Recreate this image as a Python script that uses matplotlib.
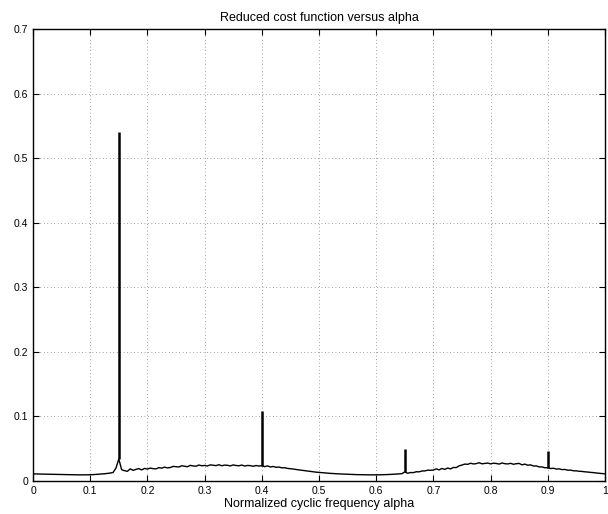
import matplotlib

matplotlib.use("Agg")
import matplotlib.pyplot as plt  # noqa: E402
import numpy as np  # noqa: E402
from matplotlib.ticker import FormatStrFormatter  # noqa: E402

plt.rcParams["font.family"] = ["Liberation Sans", "DejaVu Sans"]

alpha_step = 0.005
cost_base = [
    0.0110, 0.0109, 0.0108, 0.0107, 0.0106, 0.0105, 0.0104, 0.0103, 0.0102, 0.0101,
    0.0100, 0.0099, 0.0098, 0.0097, 0.0096, 0.0096, 0.0095, 0.0095, 0.0095, 0.0096,
    0.0097, 0.0099, 0.0102, 0.0105, 0.0108, 0.0112, 0.0118, 0.0123, 0.0132, 0.0200,
    0.0340, 0.0175, 0.0160, 0.0150, 0.0188, 0.0165, 0.0180, 0.0192, 0.0172, 0.0195,
    0.0185, 0.0200, 0.0191, 0.0188, 0.0207, 0.0199, 0.0215, 0.0203, 0.0209, 0.0226,
    0.0222, 0.0217, 0.0236, 0.0228, 0.0221, 0.0242, 0.0233, 0.0229, 0.0247, 0.0236,
    0.0241, 0.0233, 0.0250, 0.0244, 0.0238, 0.0252, 0.0236, 0.0246, 0.0243, 0.0234,
    0.0249, 0.0240, 0.0236, 0.0247, 0.0232, 0.0241, 0.0238, 0.0228, 0.0240, 0.0231,
    0.0238, 0.0222, 0.0234, 0.0217, 0.0225, 0.0212, 0.0216, 0.0204, 0.0205, 0.0195,
    0.0190, 0.0185, 0.0178, 0.0172, 0.0166, 0.0160, 0.0153, 0.0147, 0.0141, 0.0137,
    0.0133, 0.0129, 0.0125, 0.0121, 0.0118, 0.0115, 0.0112, 0.0110, 0.0108, 0.0106,
    0.0104, 0.0102, 0.0100, 0.0099, 0.0098, 0.0097, 0.0096, 0.0096, 0.0095, 0.0095,
    0.0095, 0.0096, 0.0097, 0.0098, 0.0100, 0.0102, 0.0104, 0.0107, 0.0110, 0.0114,
    0.0140, 0.0120, 0.0131, 0.0130, 0.0143, 0.0142, 0.0155, 0.0156, 0.0168, 0.0166,
    0.0170, 0.0188, 0.0172, 0.0194, 0.0180, 0.0201, 0.0187, 0.0210, 0.0208, 0.0235,
    0.0247, 0.0262, 0.0258, 0.0275, 0.0264, 0.0269, 0.0283, 0.0266, 0.0272, 0.0278,
    0.0265, 0.0276, 0.0271, 0.0262, 0.0279, 0.0268, 0.0264, 0.0274, 0.0259, 0.0268,
    0.0272, 0.0250, 0.0262, 0.0244, 0.0250, 0.0232, 0.0234, 0.0218, 0.0218, 0.0205,
    0.0206, 0.0193, 0.0197, 0.0185, 0.0188, 0.0176, 0.0179, 0.0167, 0.0169, 0.0158,
    0.0157, 0.0151, 0.0148, 0.0142, 0.0139, 0.0133, 0.0130, 0.0124, 0.0120, 0.0115,
    0.0111,
]

# narrow peaks at the cyclic frequencies
spike_alpha = [0.15, 0.40, 0.65, 0.90]
spike_peak = [0.540, 0.108, 0.050, 0.046]

x_ticks = [0, 0.1, 0.2, 0.3, 0.4, 0.5, 0.6, 0.7, 0.8, 0.9, 1]
y_ticks = [0, 0.1, 0.2, 0.3, 0.4, 0.5, 0.6, 0.7]

alpha = np.arange(len(cost_base)) * alpha_step
cost = np.array(cost_base)
spike_foot = [cost[np.argmin(np.abs(alpha - a))] for a in spike_alpha]

fig = plt.figure(figsize=(6.08, 5.14), dpi=100)
ax = fig.add_axes([0.0543, 0.0642, 0.9407, 0.8794])

ax.plot(alpha, cost, color="black", linewidth=1.0)
ax.vlines(spike_alpha, spike_foot, spike_peak, color="black", linewidth=1.8)

ax.set_xlim(0, 1)
ax.set_ylim(0, 0.7)
ax.set_xticks(x_ticks)
ax.set_yticks(y_ticks)
ax.xaxis.set_major_formatter(FormatStrFormatter("%g"))
ax.yaxis.set_major_formatter(FormatStrFormatter("%g"))
ax.tick_params(direction="in", top=True, right=True, length=4, width=0.8,
               labelsize=7.5, pad=3.5)
ax.grid(True, linestyle=(0, (1, 4)), color="black", linewidth=0.5, alpha=0.7)
for s in ax.spines.values():
    s.set_linewidth(1.0)

ax.set_title("Reduced cost function versus alpha", fontsize=9, pad=6)
ax.set_xlabel("Normalized cyclic frequency alpha", fontsize=9, labelpad=1.5)

fig.savefig("out.png", dpi=100)
